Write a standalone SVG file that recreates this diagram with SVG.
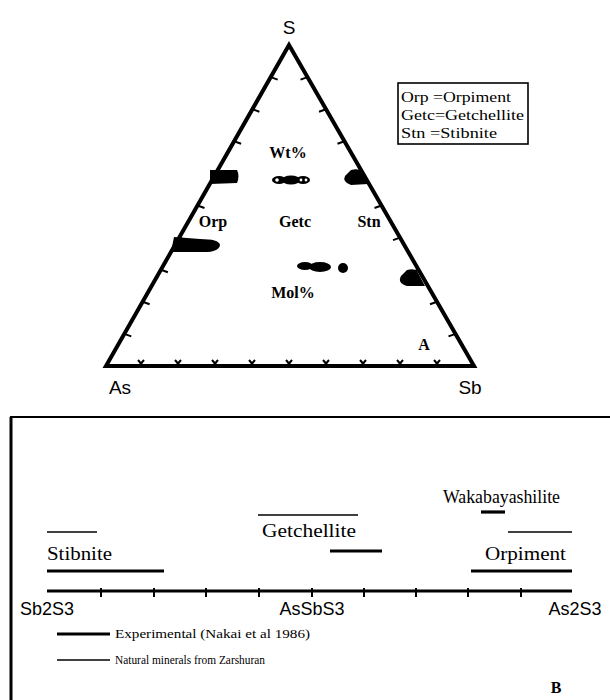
<svg xmlns="http://www.w3.org/2000/svg" width="610" height="700" viewBox="0 0 610 700">
<style>
.sans{font-family:"Liberation Sans",Arial,sans-serif;fill:#000}
.serif{font-family:"Liberation Serif","Times New Roman",serif;fill:#000}
.bold{font-weight:bold}
.tick{stroke:#000;stroke-width:2;fill:none}
.thin{stroke:#000;stroke-width:1.5}
.thick{stroke:#000;stroke-width:3.2}
.blob{fill:#000}
</style>
<rect width="610" height="700" fill="#fff"/>
<g id="triangle">
<polygon points="289,45 106,366 474,366" fill="none" stroke="#000" stroke-width="4" stroke-linejoin="miter"/>
<g class="tick">
<path d="M138,360 l6,7 M144,360 l-6,7"/>
<path d="M175,360 l6,7 M181,360 l-6,7"/>
<path d="M212,360 l6,7 M218,360 l-6,7"/>
<path d="M249,360 l6,7 M255,360 l-6,7"/>
<path d="M286,360 l6,7 M292,360 l-6,7"/>
<path d="M323,360 l6,7 M329,360 l-6,7"/>
<path d="M360,360 l6,7 M366,360 l-6,7"/>
<path d="M397,360 l6,7 M403,360 l-6,7"/>
<path d="M434,360 l6,7 M440,360 l-6,7"/>
<path d="M270.7,77.1 l7,2.5 M270.7,77.1 l3,-5"/>
<path d="M252.4,109.2 l7,2.5 M252.4,109.2 l3,-5"/>
<path d="M234.1,141.3 l7,2.5 M234.1,141.3 l3,-5"/>
<path d="M215.8,173.4 l7,2.5 M215.8,173.4 l3,-5"/>
<path d="M197.5,205.5 l7,2.5 M197.5,205.5 l3,-5"/>
<path d="M179.2,237.6 l7,2.5 M179.2,237.6 l3,-5"/>
<path d="M160.9,269.7 l7,2.5 M160.9,269.7 l3,-5"/>
<path d="M142.6,301.8 l7,2.5 M142.6,301.8 l3,-5"/>
<path d="M124.3,333.9 l7,2.5 M124.3,333.9 l3,-5"/>
<path d="M307.5,77.1 l-7,2.5 M307.5,77.1 l-3,-5"/>
<path d="M326,109.2 l-7,2.5 M326,109.2 l-3,-5"/>
<path d="M344.5,141.3 l-7,2.5 M344.5,141.3 l-3,-5"/>
<path d="M363,173.4 l-7,2.5 M363,173.4 l-3,-5"/>
<path d="M381.5,205.5 l-7,2.5 M381.5,205.5 l-3,-5"/>
<path d="M400,237.6 l-7,2.5 M400,237.6 l-3,-5"/>
<path d="M418.5,269.7 l-7,2.5 M418.5,269.7 l-3,-5"/>
<path d="M437,301.8 l-7,2.5 M437,301.8 l-3,-5"/>
<path d="M455.5,333.9 l-7,2.5 M455.5,333.9 l-3,-5"/>
</g>
<text class="sans" x="289" y="34" font-size="19" text-anchor="middle">S</text>
<text class="sans" x="120" y="394" font-size="19" text-anchor="middle">As</text>
<text class="sans" x="470" y="394" font-size="19" text-anchor="middle">Sb</text>
</g>
<g id="data">
<path class="blob" d="M210,170 L237,170 Q240,176 237,183 L210,184 Z"/>
<ellipse cx="279" cy="180" rx="7" ry="4" fill="#000"/>
<ellipse cx="291" cy="180" rx="9" ry="4.5" fill="#000"/>
<ellipse cx="303" cy="180" rx="7" ry="4" fill="#000"/>
<circle cx="277" cy="180" r="1.8" fill="#fff"/>
<circle cx="301" cy="180" r="1.4" fill="#fff"/>
<circle cx="306" cy="180" r="1.4" fill="#fff"/>
<path class="blob" d="M351,170 Q358,168 362,171 L368,184 L351,185 Q342,182 345,176 Z"/>
<path class="blob" d="M174,237 L200,239 Q219,239 220,245 Q219,253 200,252 L171,252 Z"/>
<ellipse cx="305" cy="266" rx="8" ry="4" fill="#000"/>
<ellipse cx="320" cy="267" rx="11" ry="5" fill="#000"/>
<circle cx="343" cy="268" r="5" fill="#000"/>
<path class="blob" d="M407,270 Q414,268 417,271 L425,286 L407,286 Q397,283 401,276 Z"/>
<text class="serif bold" x="288" y="158" font-size="16" text-anchor="middle">Wt%</text>
<text class="serif bold" x="213" y="227" font-size="16" text-anchor="middle">Orp</text>
<text class="serif bold" x="295" y="227" font-size="16" text-anchor="middle">Getc</text>
<text class="serif bold" x="369" y="227" font-size="16" text-anchor="middle">Stn</text>
<text class="serif bold" x="293" y="298" font-size="16" text-anchor="middle">Mol%</text>
<text class="serif bold" x="424" y="350" font-size="16" text-anchor="middle">A</text>
</g>
<g id="legend-a">
<rect x="398" y="83" width="130" height="61" fill="#fff" stroke="#000" stroke-width="1.6"/>
<text class="serif" x="401" y="102" font-size="15" textLength="110" lengthAdjust="spacingAndGlyphs">Orp =Orpiment</text>
<text class="serif" x="401" y="120" font-size="15" textLength="123" lengthAdjust="spacingAndGlyphs">Getc=Getchellite</text>
<text class="serif" x="401" y="138" font-size="15" textLength="96" lengthAdjust="spacingAndGlyphs">Stn =Stibnite</text>
</g>
<g id="panel-b">
<path d="M11,700 L11,417 L610,417" fill="none" stroke="#000" stroke-width="2"/>
<path d="M11,417 L11,700" stroke="#000" stroke-width="3"/>
</g>
<g id="connectors">
<line class="thin" x1="47" y1="532" x2="97" y2="532"/>
<line class="thin" x1="258" y1="515" x2="358" y2="515"/>
<line class="thin" x1="508" y1="532" x2="572" y2="532"/>
<line class="thick" x1="481" y1="512" x2="505" y2="512"/>
<line class="thick" x1="330" y1="551" x2="382" y2="551"/>
<line class="thick" x1="47" y1="571" x2="164" y2="571"/>
<line class="thick" x1="471" y1="571" x2="572" y2="571"/>
<line class="thick" x1="47" y1="591" x2="572" y2="591"/>
<g class="tick">
<path d="M101,588 v9 M154,588 v9 M206,588 v9 M259,588 v9 M312,588 v9 M364,588 v9 M416,588 v9 M468,588 v9 M521,588 v9"/>
</g>
<line class="thick" x1="57" y1="634" x2="110" y2="634"/>
<line class="thin" x1="57" y1="660" x2="110" y2="660"/>
</g>
<g id="labels-b">
<text class="serif" x="443" y="503" font-size="18" textLength="117" lengthAdjust="spacingAndGlyphs">Wakabayashilite</text>
<text class="serif" x="262" y="537" font-size="19" textLength="94" lengthAdjust="spacingAndGlyphs">Getchellite</text>
<text class="serif" x="47" y="560" font-size="19" textLength="65" lengthAdjust="spacingAndGlyphs">Stibnite</text>
<text class="serif" x="485" y="560" font-size="19" textLength="81" lengthAdjust="spacingAndGlyphs">Orpiment</text>
<text class="sans" x="47" y="615" font-size="18" text-anchor="middle">Sb2S3</text>
<text class="sans" x="312" y="615" font-size="18" text-anchor="middle">AsSbS3</text>
<text class="sans" x="575" y="615" font-size="18" text-anchor="middle">As2S3</text>
<text class="serif" x="115" y="638" font-size="12.5" textLength="195" lengthAdjust="spacingAndGlyphs">Experimental (Nakai et al  1986)</text>
<text class="serif" x="115" y="664" font-size="12.5" textLength="150" lengthAdjust="spacingAndGlyphs">Natural minerals from Zarshuran</text>
<text class="serif bold" x="556" y="693" font-size="16" text-anchor="middle">B</text>
</g>
</svg>
